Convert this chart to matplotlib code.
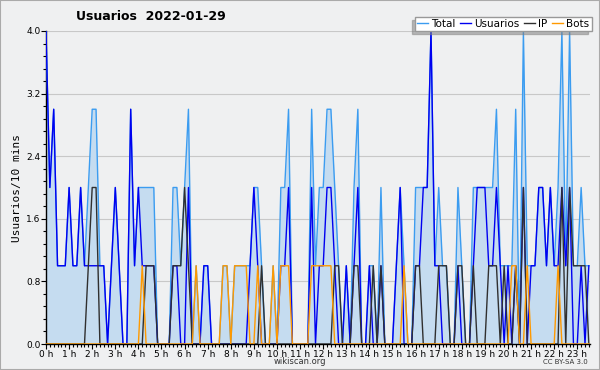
import numpy as np
import matplotlib
matplotlib.use('Agg')
import matplotlib.pyplot as plt
from matplotlib.ticker import MultipleLocator, FixedLocator, FormatStrFormatter

# ─────────────────────────────────────────────
# 数据（每 10 分钟一个点）
# ─────────────────────────────────────────────
usuarios = [4, 2, 3, 1, 1, 1, 2, 1, 1, 2, 1, 1, 1, 1, 1, 1, 0, 1, 2, 1,
            0, 0, 3, 1, 2, 1, 1, 1, 1, 0, 0, 0, 0, 1, 1, 0, 0, 2, 0, 0,
            0, 1, 1, 0, 0, 0, 0, 0, 0, 0, 0, 0, 0, 1, 2, 1, 0, 0, 0, 0,
            0, 1, 1, 2, 0, 0, 0, 0, 0, 2, 0, 1, 1, 2, 2, 1, 0, 0, 1, 0,
            1, 2, 0, 0, 1, 0, 0, 1, 0, 0, 0, 1, 2, 0, 0, 0, 1, 1, 2, 2,
            4, 1, 1, 0, 0, 0, 0, 1, 0, 0, 0, 1, 2, 2, 2, 1, 1, 2, 1, 0,
            1, 0, 1, 0, 2, 0, 1, 1, 2, 2, 1, 2, 1, 1, 2, 1, 2, 0, 0, 1,
            0, 1]
ip       = [0, 0, 0, 0, 0, 0, 0, 0, 0, 0, 0, 1, 2, 2, 0, 0, 0, 0, 0, 0,
            0, 0, 0, 0, 0, 0, 1, 1, 1, 0, 0, 0, 0, 1, 1, 1, 2, 1, 0, 0,
            0, 0, 0, 0, 0, 0, 0, 0, 0, 0, 0, 0, 0, 0, 0, 0, 1, 0, 0, 0,
            0, 0, 0, 0, 0, 0, 0, 0, 0, 0, 0, 0, 0, 0, 0, 1, 1, 0, 0, 0,
            1, 1, 0, 0, 0, 1, 0, 1, 0, 0, 0, 0, 0, 0, 0, 0, 1, 1, 0, 0,
            0, 0, 1, 1, 1, 0, 0, 1, 1, 0, 0, 1, 0, 0, 0, 1, 1, 1, 0, 1,
            0, 0, 1, 0, 2, 0, 0, 0, 0, 0, 0, 0, 0, 0, 2, 0, 2, 1, 1, 1,
            1, 0]
bots     = [0, 0, 0, 0, 0, 0, 0, 0, 0, 0, 0, 0, 0, 0, 0, 0, 0, 0, 0, 0,
            0, 0, 0, 0, 0, 1, 0, 0, 0, 0, 0, 0, 0, 0, 0, 0, 0, 0, 0, 1,
            0, 0, 0, 0, 0, 0, 1, 1, 0, 1, 1, 1, 1, 0, 0, 1, 0, 0, 0, 1,
            0, 1, 1, 1, 0, 0, 0, 0, 0, 1, 1, 1, 1, 1, 1, 0, 0, 0, 0, 0,
            0, 0, 0, 0, 0, 0, 0, 0, 0, 0, 0, 0, 0, 1, 0, 0, 0, 0, 0, 0,
            0, 0, 0, 0, 0, 0, 0, 0, 0, 0, 0, 0, 0, 0, 0, 0, 0, 0, 0, 0,
            0, 1, 1, 0, 0, 1, 0, 0, 0, 0, 0, 0, 0, 1, 0, 0, 0, 0, 0, 0,
            0, 0]
total    = [4, 2, 3, 1, 1, 1, 2, 1, 1, 2, 1, 2, 3, 3, 1, 1, 0, 1, 2, 1,
            0, 0, 3, 1, 2, 2, 2, 2, 2, 0, 0, 0, 0, 2, 2, 1, 2, 3, 0, 1,
            0, 1, 1, 0, 0, 0, 1, 1, 0, 1, 1, 1, 1, 1, 2, 2, 1, 0, 0, 1,
            0, 2, 2, 3, 0, 0, 0, 0, 0, 3, 1, 2, 2, 3, 3, 2, 1, 0, 1, 0,
            2, 3, 0, 0, 1, 1, 0, 2, 0, 0, 0, 1, 2, 1, 0, 0, 2, 2, 2, 2,
            4, 1, 2, 1, 1, 0, 0, 2, 1, 0, 0, 2, 2, 2, 2, 2, 2, 3, 1, 1,
            1, 1, 3, 0, 4, 1, 1, 1, 2, 2, 1, 2, 1, 2, 4, 1, 4, 1, 1, 2,
            1, 1]

hour_labels = ['%d h' % h for h in range(24)]

C_FILL  = '#c5dcf0'
C_TOTAL = '#3b9cf0'
C_USER  = '#0000f0'
C_IP    = '#303030'
C_BOTS  = '#ff9900'
BG      = '#eff0f1'

x = np.arange(len(total))

fig = plt.figure(figsize=(6.0, 3.7), dpi=100, facecolor=BG)
ax = fig.add_axes([46 / 600, 26 / 370, 544 / 600, 313 / 370])
ax.set_facecolor(BG)

ax.fill_between(x, 0, total, color=C_FILL, lw=0, zorder=1)
ax.plot(x, total,    color=C_TOTAL, lw=1.0, label='Total',    zorder=3)
ax.plot(x, usuarios, color=C_USER,  lw=1.0, label='Usuarios', zorder=4)
ax.plot(x, ip,       color=C_IP,    lw=1.0, label='IP',       zorder=5)
ax.plot(x, bots,     color=C_BOTS,  lw=1.0, label='Bots',     zorder=6)

ax.set_xlim(0, 141.3)
ax.set_ylim(0, 4.0)

ax.xaxis.set_major_locator(FixedLocator(np.arange(0, 24) * 6))
ax.set_xticklabels(hour_labels)
ax.xaxis.set_minor_locator(MultipleLocator(1))
ax.yaxis.set_major_locator(MultipleLocator(0.8))
ax.yaxis.set_minor_locator(MultipleLocator(0.16))
ax.yaxis.set_major_formatter(FormatStrFormatter('%.1f'))
ax.tick_params(axis='both', which='major', length=3.5, width=0.8, labelsize=6.5, pad=0.5)
ax.tick_params(axis='both', which='minor', length=2.5, width=0.8)

ax.grid(axis='y', which='major', color='#c8c8c8', lw=0.8, zorder=0)
ax.set_axisbelow(True)
for s in ['top', 'right']:
    ax.spines[s].set_visible(False)
ax.spines['left'].set_linewidth(1.0)
ax.spines['bottom'].set_linewidth(1.0)

ax.set_ylabel('Usuarios/10 mins', fontsize=8, family='DejaVu Sans Mono', labelpad=3)

fig.text(151 / 600, 1 - 17 / 370, 'Usuarios  2022-01-29', fontsize=9,
         fontweight='bold', ha='center', va='center')

leg = ax.legend(ncol=4, loc='lower right', bbox_to_anchor=(1.003, 1.0),
                fontsize=7.5, handlelength=1.0, handletextpad=0.35, columnspacing=0.45,
                borderpad=0.2, borderaxespad=0, fancybox=False,
                edgecolor='#999999', facecolor='white', framealpha=1,
                shadow={'ox': -2.5, 'oy': -2.5, 'shade': 0.5})
leg.get_frame().set_linewidth(1.0)

fig.text(300 / 600, 1 - 362 / 370, 'wikiscan.org', fontsize=6, ha='center',
         va='center', color='#333333')
fig.text(588 / 600, 1 - 362 / 370, 'CC BY-SA 3.0', fontsize=5, ha='right',
         va='center', color='#333333')

# 外框
fig.patches.append(plt.Rectangle((0, 0), 1, 1, transform=fig.transFigure,
                                 fill=False, edgecolor='#aaaaaa', lw=1.5))

fig.savefig('out.png', dpi=100, facecolor=BG)
